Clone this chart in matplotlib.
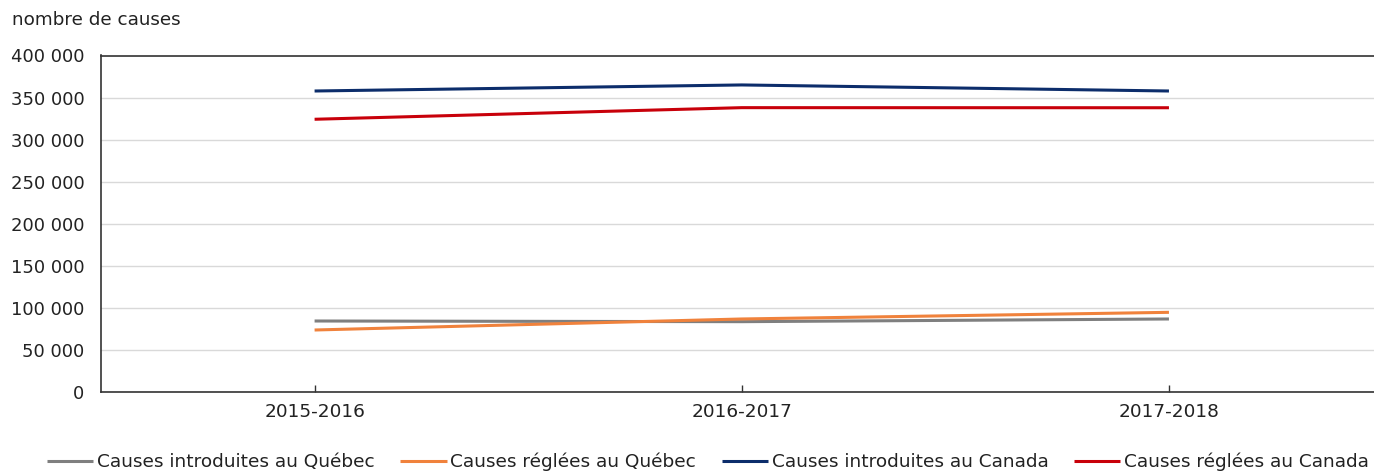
import matplotlib.pyplot as plt
from matplotlib.ticker import FuncFormatter

annees = ['2015-2016', '2016-2017', '2017-2018']
intro_qc = [84400, 83600, 86800]
regle_qc = [73700, 86800, 94700]
intro_ca = [357800, 365000, 357800]
regle_ca = [324200, 338000, 337900]

series = [
    ('Causes introduites au Québec', intro_qc, '#7f7f7f'),
    ('Causes réglées au Québec', regle_qc, '#f0823c'),
    ('Causes introduites au Canada', intro_ca, '#0c2d6b'),
    ('Causes réglées au Canada', regle_ca, '#c8000a'),
]

txt = '#222222'
plt.rcParams['font.family'] = ['DejaVu Sans']

fig = plt.figure(figsize=(13.74, 4.72), dpi=100)
ax = fig.add_axes([101 / 1374, 1 - 392 / 472, 1 - 101 / 1374, (392 - 55.5) / 472])

x = list(range(len(annees)))
for nom, vals, col in series:
    ax.plot(x, vals, color=col, lw=2.2, label=nom, solid_capstyle='butt')

ax.set_xlim(-0.5, 2.48)
ax.set_ylim(0, 400000)
ax.set_yticks(range(0, 400001, 50000))
ax.yaxis.set_major_formatter(FuncFormatter(lambda v, p: f'{int(v):,}'.replace(',', ' ')))
ax.set_xticks(x)
ax.set_xticklabels(annees)
ax.grid(axis='y', color='#d9d9d9', lw=1)
ax.set_axisbelow(True)

ax.spines['right'].set_visible(False)
for s in ['top', 'left', 'bottom']:
    ax.spines[s].set_color('#333333')
    ax.spines[s].set_linewidth(1.2)

ax.tick_params(axis='y', length=0, pad=12, labelsize=13, labelcolor=txt)
ax.tick_params(axis='x', direction='in', length=5, width=1, color='#333333',
               pad=8, labelsize=13.3, labelcolor=txt)

fig.text(12 / 1374, 1 - 20 / 472, 'nombre de causes', fontsize=13.2, color=txt,
         ha='left', va='center')

fig.legend(loc='center', bbox_to_anchor=(0.5153, 1 - 462 / 472), ncol=4, frameon=False,
           fontsize=13.3, handlelength=2.5, handletextpad=0.2, columnspacing=1.4,
           labelcolor=txt, borderpad=0, borderaxespad=0)

fig.savefig('out.png', dpi=100, facecolor='white')
